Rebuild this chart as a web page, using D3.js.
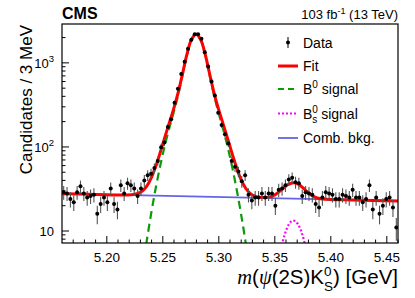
<!DOCTYPE html>
<html>
<head>
<meta charset="utf-8">
<script src="https://cdn.jsdelivr.net/npm/d3@7"></script>
<style>
body { margin: 0; background: #fff; }
text { font-family: "Liberation Sans", Arial, Helvetica, sans-serif; fill: #000; }
</style>
</head>
<body>
<script>

// events per 3 MeV bin, first bin starts at 5.160 GeV
var binStart = 5.160;
var binWidth = 0.003;
var counts = [
    29, 28, 24, 22, 29, 34, 28, 25, 26, 27,
    16, 21, 25, 22, 32, 21, 18, 35, 28, 37,
    35, 32, 26, 32, 40, 46, 48, 56, 68, 99,
    113, 173, 213, 336, 493, 735, 1028, 1475, 1890, 2190,
    2190, 1930, 1340, 904, 600, 408, 255, 183, 142, 110,
    68, 58, 51, 39, 46, 27, 23, 25, 25, 28,
    25, 28, 28, 20, 31, 32, 35, 41, 43, 38,
    37, 26, 29, 28, 27, 21, 19, 25, 29, 28,
    27, 24, 24, 27, 26, 25, 31, 25, 25, 22,
    24, 35, 18, 25, 16, 20, 24, 25, 19, 11
];

// fit components
var bkgMass = [5.16, 5.46];
var bkgFit = [27.8, 22.8];

var b0Mass = [5.2317, 5.2357, 5.2397, 5.2437, 5.2477, 5.2517, 5.2557, 5.2597, 5.2637,
    5.2677, 5.2717, 5.2757, 5.2797, 5.2837, 5.2877, 5.2917, 5.2957, 5.2997, 5.3037,
    5.3077, 5.3117, 5.3157, 5.3197, 5.3237, 5.3277];
var b0Fit = [3.4, 7.7, 16.4, 32.5, 59.8, 102.7, 165.5, 257.9, 415.4,
    725.7, 1263, 1881.5, 2170, 1881.5, 1263, 725.7, 415.4, 257.9, 165.5,
    102.7, 59.8, 32.5, 16.4, 7.7, 3.4];

var bsMass = [5.3527, 5.3547, 5.3567, 5.3587, 5.3607, 5.3627, 5.3647, 5.3667,
    5.3687, 5.3707, 5.3727, 5.3747, 5.3767, 5.3787, 5.3807];
var bsFit = [3.97, 5.47, 7.17, 8.96, 10.65, 12.05, 12.98, 13.3,
    12.98, 12.05, 10.65, 8.96, 7.17, 5.47, 3.97];

var fitMass = [5.160, 5.190, 5.215, 5.2237, 5.2277, 5.2317, 5.2357, 5.2397, 5.2437,
    5.2477, 5.2517, 5.2557, 5.2597, 5.2637, 5.2677, 5.2717, 5.2757, 5.2797, 5.2837,
    5.2877, 5.2917, 5.2957, 5.2997, 5.3037, 5.3077, 5.3117, 5.3157, 5.3197, 5.3237,
    5.3277, 5.3317, 5.3357, 5.340, 5.346, 5.350, 5.354, 5.358, 5.362, 5.3667,
    5.371, 5.375, 5.379, 5.383, 5.387, 5.393, 5.420, 5.460];
var fitTotal = [27.8, 27.25, 26.81, 27.17, 27.95, 29.9, 34.1, 42.8, 58.8,
    86.0, 128.9, 191.6, 283.9, 441.4, 751.6, 1288.8, 1907.3, 2195.7, 1907.1,
    1288.6, 751.2, 440.8, 283.3, 190.8, 127.9, 85.0, 57.6, 41.4, 32.7,
    28.3, 26.2, 25.3, 25.0, 25.5, 26.9, 29.4, 32.7, 35.9, 37.6,
    36.1, 32.8, 29.3, 26.6, 25.0, 24.0, 23.4, 22.8];

var xTicks = [5.20, 5.25, 5.30, 5.35, 5.40, 5.45];
var xTickLabels = ["5.20", "5.25", "5.30", "5.35", "5.40", "5.45"];
var yTicks = [10, 100, 1000];
var yTickExp = ["", "2", "3"];

var w = 415;
var h = 298;
var pLeft = 62, pRight = 398, pTop = 24, pBottom = 243;

var svg = d3.select("body")
    .append("svg")
    .attr("width", w)
    .attr("height", h);

// Scale functions:
var xScale = d3.scaleLinear()
    .domain([5.16, 5.46])
    .range([pLeft, pRight]);

var yScale = d3.scaleLog()
    .domain([7.2, 2900])
    .range([pBottom, pTop]);

svg.append("clipPath")
    .attr("id", "plotclip")
    .append("rect")
    .attr("x", pLeft)
    .attr("y", pTop)
    .attr("width", pRight - pLeft)
    .attr("height", pBottom - pTop);

var plot = svg.append("g").attr("clip-path", "url(#plotclip)");

function curveOf(mass, vals) {
    var line = d3.line()
        .x(function(d, i) { return xScale(mass[i]); })
        .y(function(d) { return yScale(d); })
        .curve(d3.curveCatmullRom.alpha(0.5));
    return line(vals);
}

// combinatorial background
plot.append("path")
    .attr("d", curveOf(bkgMass, bkgFit))
    .attr("fill", "none")
    .attr("stroke", "#6464e6")
    .attr("stroke-width", 1.8);

// B0 signal
plot.append("path")
    .attr("d", curveOf(b0Mass, b0Fit))
    .attr("fill", "none")
    .attr("stroke", "#0a9a0a")
    .attr("stroke-width", 2.2)
    .attr("stroke-dasharray", "8,5");

// Bs signal
plot.append("path")
    .attr("d", curveOf(bsMass, bsFit))
    .attr("fill", "none")
    .attr("stroke", "#ff00ff")
    .attr("stroke-width", 2.2)
    .attr("stroke-dasharray", "2,2");

// total fit
plot.append("path")
    .attr("d", curveOf(fitMass, fitTotal))
    .attr("fill", "none")
    .attr("stroke", "#ff0000")
    .attr("stroke-width", 3);

// data points with poisson errors
var bins = counts.map(function(c, i) {
    return { m: binStart + binWidth * (i + 0.5), n: c };
});

plot.selectAll("line.err")
    .data(bins)
    .enter()
    .append("line")
    .attr("class", "err")
    .attr("x1", function(d) { return xScale(d.m); })
    .attr("x2", function(d) { return xScale(d.m); })
    .attr("y1", function(d) { return yScale(d.n + Math.sqrt(d.n)); })
    .attr("y2", function(d) { return yScale(Math.max(d.n - Math.sqrt(d.n), 1)); })
    .attr("stroke", "#555")
    .attr("stroke-width", 1.1);

plot.selectAll("circle")
    .data(bins)
    .enter()
    .append("circle")
    .attr("cx", function(d) { return xScale(d.m); })
    .attr("cy", function(d) { return yScale(d.n); })
    .attr("r", 2)
    .attr("fill", "#000");

// frame
svg.append("rect")
    .attr("x", pLeft)
    .attr("y", pTop)
    .attr("width", pRight - pLeft)
    .attr("height", pBottom - pTop)
    .attr("fill", "none")
    .attr("stroke", "#000")
    .attr("stroke-width", 1.2);

// x ticks
var xMinor = d3.range(5.17, 5.4601, 0.01);
svg.selectAll("line.xminor")
    .data(xMinor)
    .enter()
    .append("line")
    .attr("x1", function(d) { return xScale(d); })
    .attr("x2", function(d) { return xScale(d); })
    .attr("y1", pBottom)
    .attr("y2", function(d) {
        var major = xTicks.some(function(t) { return Math.abs(t - d) < 1e-6; });
        return major ? pBottom - 7 : pBottom - 3.5;
    })
    .attr("stroke", "#000")
    .attr("stroke-width", 1);

svg.selectAll("text.xlab")
    .data(xTicks)
    .enter()
    .append("text")
    .attr("x", function(d) { return xScale(d); })
    .attr("y", 261.5)
    .attr("text-anchor", "middle")
    .attr("font-size", 13.5)
    .text(function(d, i) { return xTickLabels[i]; });

// y ticks
var yMinor = [8, 9, 20, 30, 40, 50, 60, 70, 80, 90, 200, 300, 400, 500, 600, 700, 800, 900, 2000];
svg.selectAll("line.yminor")
    .data(yMinor)
    .enter()
    .append("line")
    .attr("x1", pLeft)
    .attr("x2", pLeft + 3.5)
    .attr("y1", function(d) { return yScale(d); })
    .attr("y2", function(d) { return yScale(d); })
    .attr("stroke", "#000");

svg.selectAll("line.ymajor")
    .data(yTicks)
    .enter()
    .append("line")
    .attr("x1", pLeft)
    .attr("x2", pLeft + 7)
    .attr("y1", function(d) { return yScale(d); })
    .attr("y2", function(d) { return yScale(d); })
    .attr("stroke", "#000");

var ylab = svg.selectAll("text.ylab")
    .data(yTicks)
    .enter()
    .append("text")
    .attr("x", 54)
    .attr("y", function(d) { return yScale(d) + 5; })
    .attr("text-anchor", "end")
    .attr("font-size", 13);
ylab.append("tspan").text("10");
ylab.append("tspan")
    .attr("dy", -5.5)
    .attr("font-size", 9.5)
    .text(function(d, i) { return yTickExp[i]; });

// axis titles
svg.append("text")
    .attr("transform", "translate(31.5,25) rotate(-90)")
    .attr("text-anchor", "end")
    .attr("font-size", 17)
    .text("Candidates / 3 MeV");

var xt = svg.append("text")
    .attr("x", 398)
    .attr("y", 284)
    .attr("text-anchor", "end")
    .attr("font-size", 20.5);
xt.append("tspan").attr("font-family", "Liberation Serif, serif").attr("font-style", "italic").text("m");
xt.append("tspan").text("(");
xt.append("tspan").attr("font-family", "Liberation Serif, serif").attr("font-style", "italic").text("ψ");
xt.append("tspan").text("(2S)K");
xt.append("tspan").attr("dy", -8).attr("font-size", 13.5).text("0");
xt.append("tspan").attr("dx", -7.5).attr("dy", 14.5).attr("font-size", 13.5).text("S");
xt.append("tspan").attr("dy", -6.5).text(") [GeV]");

// header
svg.append("text")
    .attr("x", 62)
    .attr("y", 18.5)
    .attr("font-size", 16)
    .attr("font-weight", "bold")
    .text("CMS");

var lumi = svg.append("text")
    .attr("x", 398)
    .attr("y", 18.5)
    .attr("text-anchor", "end")
    .attr("font-size", 13);
lumi.append("tspan").text("103 fb");
lumi.append("tspan").attr("dy", -5).attr("font-size", 9).text("-1");
lumi.append("tspan").attr("dy", 5).text(" (13 TeV)");

// legend
var lg = svg.append("g");
var lx = 278, ltx = 303;

lg.append("line")
    .attr("x1", 288).attr("x2", 288)
    .attr("y1", 37).attr("y2", 48)
    .attr("stroke", "#000");
lg.append("circle").attr("cx", 288).attr("cy", 42.5).attr("r", 2).attr("fill", "#000");
lg.append("text").attr("x", ltx).attr("y", 47.5).attr("font-size", 14).text("Data");

lg.append("line")
    .attr("x1", lx).attr("x2", lx + 20).attr("y1", 66).attr("y2", 66)
    .attr("stroke", "#ff0000").attr("stroke-width", 3);
lg.append("text").attr("x", ltx).attr("y", 71).attr("font-size", 14).text("Fit");

lg.append("line")
    .attr("x1", lx).attr("x2", lx + 20).attr("y1", 89).attr("y2", 89)
    .attr("stroke", "#0a9a0a").attr("stroke-width", 2.2).attr("stroke-dasharray", "6,4");
var t3 = lg.append("text").attr("x", ltx).attr("y", 94).attr("font-size", 14);
t3.append("tspan").text("B");
t3.append("tspan").attr("dy", -6).attr("font-size", 10).text("0");
t3.append("tspan").attr("dy", 6).text(" signal");

lg.append("line")
    .attr("x1", lx).attr("x2", lx + 20).attr("y1", 113.5).attr("y2", 113.5)
    .attr("stroke", "#ff00ff").attr("stroke-width", 2.2).attr("stroke-dasharray", "2,2");
var t4 = lg.append("text").attr("x", ltx).attr("y", 118.5).attr("font-size", 14);
t4.append("tspan").text("B");
t4.append("tspan").attr("dy", -6).attr("font-size", 10).text("0");
t4.append("tspan").attr("dx", -5.6).attr("dy", 10).attr("font-size", 10).text("s");
t4.append("tspan").attr("dy", -4).text(" signal");

lg.append("line")
    .attr("x1", lx).attr("x2", lx + 20).attr("y1", 138).attr("y2", 138)
    .attr("stroke", "#6464e6").attr("stroke-width", 1.8);
lg.append("text").attr("x", ltx).attr("y", 143).attr("font-size", 14).text("Comb. bkg.");

</script>
</body>
</html>
